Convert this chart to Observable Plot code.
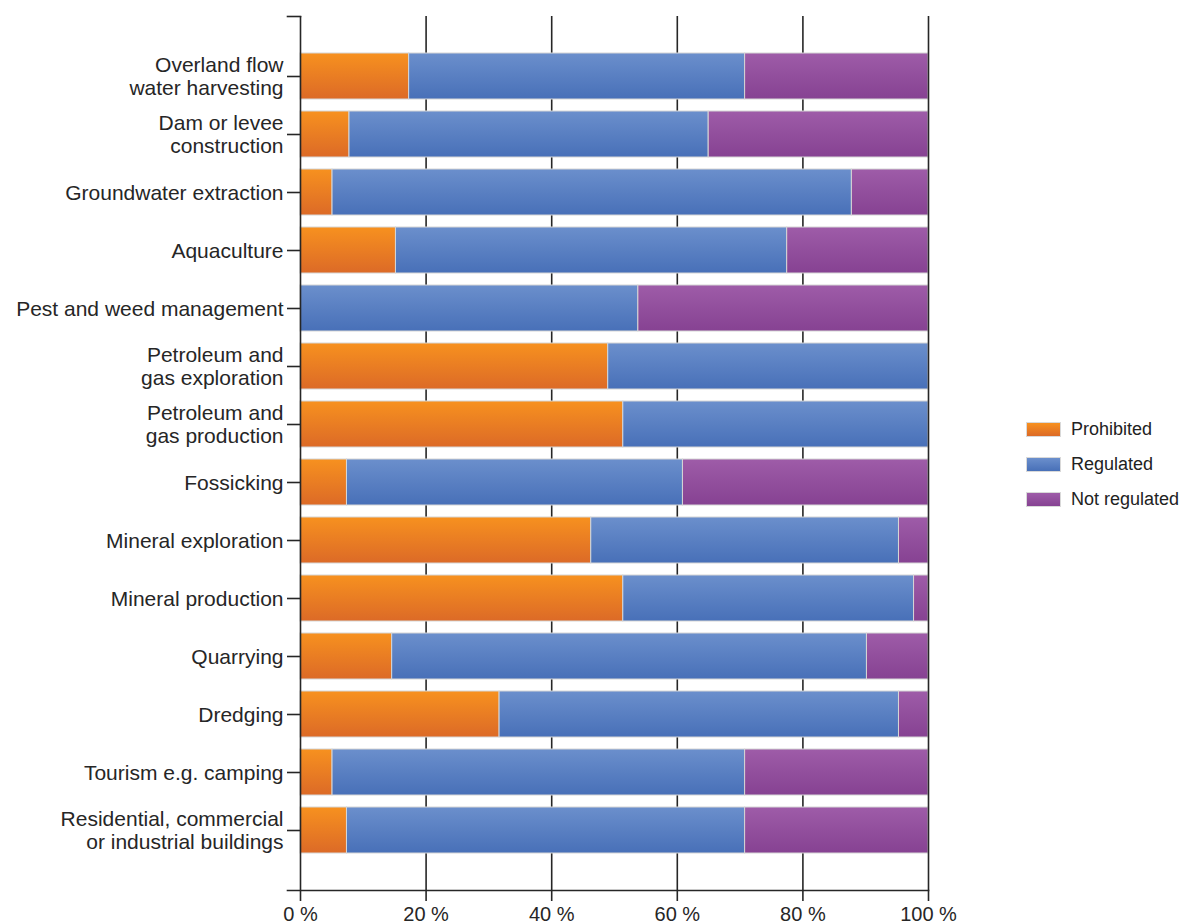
<!DOCTYPE html>
<html><head><meta charset="utf-8">
<script src="https://cdn.jsdelivr.net/npm/d3@7"></script>
<script src="https://cdn.jsdelivr.net/npm/@observablehq/plot@0.6"></script>
<style>
body{margin:0;background:#fff;font-family:"Liberation Sans",Arial,sans-serif;}
#wrap{position:relative;width:1182px;height:924px;overflow:hidden;}
#chart{position:absolute;left:0;top:0;}
#legend{position:absolute;left:1026px;top:412px;}
.item{display:flex;align-items:center;height:35px;font-size:18px;color:#222;}
.sw{width:35px;height:15px;margin-right:10px;box-sizing:border-box;border:1px solid #d9d9d9;}
</style></head><body>
<svg width="0" height="0" style="position:absolute">
  <defs>
    <linearGradient id="gO" x1="0" y1="0" x2="0" y2="1"><stop offset="0" stop-color="#F7911F"/><stop offset="1" stop-color="#DC6A27"/></linearGradient>
    <linearGradient id="gB" x1="0" y1="0" x2="0" y2="1"><stop offset="0" stop-color="#6B8FCC"/><stop offset="1" stop-color="#4870B8"/></linearGradient>
    <linearGradient id="gP" x1="0" y1="0" x2="0" y2="1"><stop offset="0" stop-color="#9E5CA8"/><stop offset="1" stop-color="#864292"/></linearGradient>
  </defs>
</svg>
<div id="wrap"><div id="chart"></div><div id="legend"></div></div>
<script>
const categories = [
  "Overland flow\nwater harvesting",
  "Dam or levee\nconstruction",
  "Groundwater extraction",
  "Aquaculture",
  "Pest and weed management",
  "Petroleum and\ngas exploration",
  "Petroleum and\ngas production",
  "Fossicking",
  "Mineral exploration",
  "Mineral production",
  "Quarrying",
  "Dredging",
  "Tourism e.g. camping",
  "Residential, commercial\nor industrial buildings"
];
const prohibited   = [17.3, 7.8, 5.1, 15.2, 0, 49.0, 51.4, 7.4, 46.3, 51.4, 14.6, 31.7, 5.1, 7.4];
const regulated    = [53.5, 57.2, 82.7, 62.3, 53.8, 51.0, 48.6, 53.5, 49.0, 46.3, 75.6, 63.6, 65.7, 63.4];
const notRegulated = [29.2, 35.0, 12.2, 22.5, 46.2, 0, 0, 39.1, 4.7, 2.3, 9.8, 4.7, 29.2, 29.2];
const statuses = ["Prohibited", "Regulated", "Not regulated"];
const xTicks = [0, 20, 40, 60, 80, 100];
const fills = ["url(#gO)", "url(#gB)", "url(#gP)"];
const swatchCss = ["linear-gradient(#F7911F,#DC6A27)", "linear-gradient(#6B8FCC,#4870B8)", "linear-gradient(#9E5CA8,#864292)"];

const series = [prohibited, regulated, notRegulated];
const data = [];
categories.forEach((c, i) => {
  statuses.forEach((s, j) => data.push({category: c, status: s, value: series[j][i]}));
});

const ink = "#262626";
const plot = Plot.plot({
  width: 1000, height: 924,
  marginLeft: 300, marginRight: 72, marginTop: 16, marginBottom: 34,
  style: {fontFamily: "'Liberation Sans', Arial, sans-serif", color: ink, background: "transparent", overflow: "visible"},
  x: {domain: [0, 100], ticks: xTicks},
  y: {domain: categories, paddingInner: 0.21, paddingOuter: 0.6},
  color: {domain: statuses, range: fills},
  marks: [
    Plot.ruleX(xTicks.slice(1, -1), {stroke: ink, strokeWidth: 1.6}),
    Plot.barX(data, Plot.stackX({x: "value", y: "category", fill: "status", stroke: "#d6d6d6", strokeWidth: 1})),
    Plot.ruleX([0, 100], {stroke: ink, strokeWidth: 1.6}),
    Plot.frame({anchor: "bottom", insetLeft: -13, stroke: ink, strokeWidth: 1.6}),
    Plot.frame({anchor: "top", insetLeft: -13, insetRight: 628, stroke: ink, strokeWidth: 1.6}),
    Plot.axisX({ticks: xTicks, tickSize: 11, tickPadding: 5, tickFormat: d => d + " %", fontSize: 20, strokeWidth: 1.6, label: null}),
    Plot.axisY({tickSize: 13, tickPadding: 4, fontSize: 21, lineHeight: 1.1, strokeWidth: 1.6, label: null})
  ]
});
document.getElementById("chart").appendChild(plot);

const legend = document.getElementById("legend");
statuses.forEach((s, i) => {
  const it = document.createElement("div");
  it.className = "item";
  const sw = document.createElement("div");
  sw.className = "sw";
  sw.style.background = swatchCss[i];
  const t = document.createElement("span");
  t.textContent = s;
  it.appendChild(sw); it.appendChild(t);
  legend.appendChild(it);
});
</script>
</body></html>
